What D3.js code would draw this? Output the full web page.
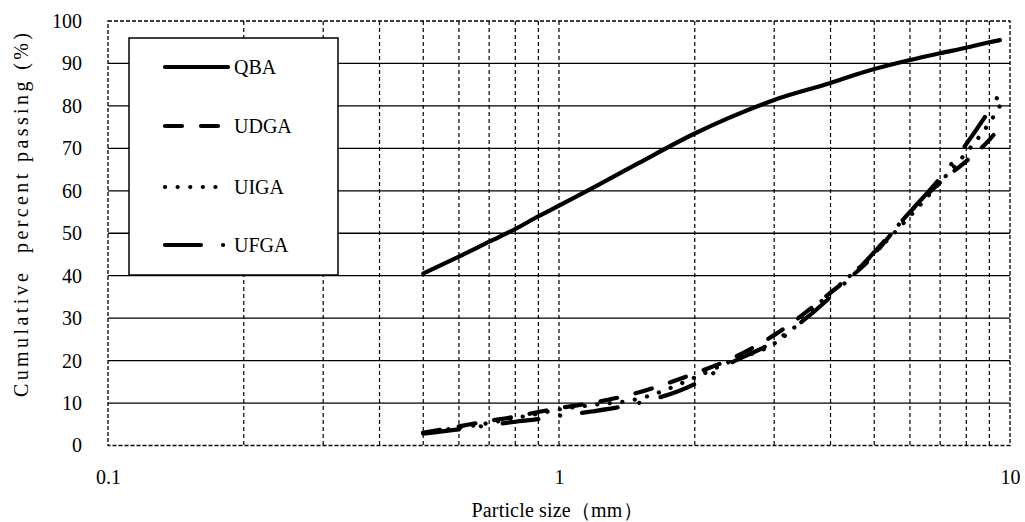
<!DOCTYPE html>
<html><head><meta charset="utf-8">
<script src="https://cdn.jsdelivr.net/npm/d3@7"></script>
<style>
html,body{margin:0;padding:0;background:#fff;}
svg{display:block;}
</style></head>
<body>
<svg id="chart" width="1025" height="522"></svg>
<script>
// ---- data ----
const sizes = [0.5, 0.6, 0.7, 0.8, 0.9, 1, 1.18, 1.5, 2, 2.36, 3, 4, 4.75, 6, 7, 8, 9, 9.5];
const qba  = [40.5, 44.5, 48, 51, 54, 56.5, 60.5, 66.5, 73.5, 77, 81.4, 85.4, 88, 90.8, 92.4, 93.7, 95, 95.5];
const udga = [3, 4.5, 5.8, 6.8, 7.9, 8.8, 10, 12.5, 17, 20, 26, 36, 42.5, 55, 62, 67, 72, 75];
const uiga = [3, 4.2, 5.3, 6.5, 7.5, 8.5, 9.5, 11, 16, 19.5, 24, 36, 43, 54, 62, 69, 76, 80];
const ufga = [2.8, 3.8, 4.8, 5.6, 6.2, 7, 8, 10, 14.5, 19, 24.5, 35, 43, 55, 63, 71, 79, 83];
const seriesNames = ["QBA", "UDGA", "UIGA", "UFGA"];
const xTicks = [0.1, 1, 10];
const xMinor = [0.2,0.3,0.4,0.5,0.6,0.7,0.8,0.9,2,3,4,5,6,7,8,9];
const yTicks = [0,10,20,30,40,50,60,70,80,90,100];
const xTitle = "Particle size（mm）";
const yTitle = "Cumulative  percent passing (%)";

const dashes = ["none", "17,19", "0.1,12.5", "36,22,0.1,22"];
const allSeries = [qba, udga, uiga, ufga];
const FONT = '"Liberation Serif"';

// ---- layout ----
const L = 108, R = 1010, T = 21, B = 445.5;
const svg = d3.select("#chart");
const x = d3.scaleLog().domain([0.1, 10]).range([L, R]);
const y = d3.scaleLinear().domain([0, 100]).range([B, T]);

// horizontal gridlines (solid)
svg.append("g").selectAll("line").data(yTicks.filter(v => v > 0 && v < 100)).join("line")
  .attr("x1", L).attr("x2", R).attr("y1", d => y(d)).attr("y2", d => y(d))
  .attr("stroke", "#000").attr("stroke-width", 1.3);

// vertical dashed gridlines
svg.append("g").selectAll("line").data(xMinor.concat([1])).join("line")
  .attr("x1", d => x(d)).attr("x2", d => x(d)).attr("y1", T).attr("y2", B)
  .attr("stroke", "#000").attr("stroke-width", 1.2).attr("stroke-dasharray", "4,3");

// border (dashed)
svg.append("rect").attr("x", L).attr("y", T).attr("width", R - L).attr("height", B - T)
  .attr("fill", "none").attr("stroke", "#000").attr("stroke-width", 1.3).attr("stroke-dasharray", "4,2");

// axes labels via d3 axes (tick lines hidden)
const yAxis = svg.append("g").attr("transform", `translate(${L},0)`)
  .call(d3.axisLeft(y).tickValues(yTicks).tickSize(0).tickPadding(26));
yAxis.select(".domain").remove();
yAxis.attr("font-family", FONT).attr("font-size", 20);
yAxis.selectAll("text").style("font-size", "20px").style("font-family", FONT);

const xAxis = svg.append("g").attr("transform", `translate(0,${B})`)
  .call(d3.axisBottom(x).tickValues(xTicks).tickFormat(d3.format("")).tickSize(0).tickPadding(24));
xAxis.select(".domain").remove();
xAxis.attr("font-family", FONT).attr("font-size", 20);
xAxis.selectAll("text").style("font-size", "20px").style("font-family", FONT);

// titles
svg.append("text").attr("x", 557).attr("y", 517).attr("text-anchor", "middle")
  .style("font-size", "20px").style("font-family", FONT)
  .attr("textLength", 171).attr("lengthAdjust", "spacing").text(xTitle);
svg.append("text").attr("transform", "translate(28,215) rotate(-90)").attr("text-anchor", "middle")
  .style("font-size", "20px").style("font-family", FONT).style("white-space", "pre")
  .attr("textLength", 364).attr("lengthAdjust", "spacing").text(yTitle);

// lines
const line = d3.line().x(d => x(d[0])).y(d => y(d[1])).curve(d3.curveMonotoneX);
allSeries.forEach((vals, i) => {
  svg.append("path").datum(sizes.map((s, j) => [s, vals[j]]))
    .attr("d", line).attr("fill", "none").attr("stroke", "#000")
    .attr("stroke-width", 4.2).attr("stroke-linecap", "round").attr("stroke-linejoin", "round")
    .attr("stroke-dasharray", dashes[i] === "none" ? null : dashes[i]);
});

// legend
const lg = svg.append("g");
lg.append("rect").attr("x", 129).attr("y", 38).attr("width", 209).attr("height", 237)
  .attr("fill", "#fff").attr("stroke", "#000").attr("stroke-width", 1.5);
const ly = [67, 126, 187, 245];
seriesNames.forEach((n, i) => {
  lg.append("line").attr("x1", 165).attr("x2", 228).attr("y1", ly[i]).attr("y2", ly[i])
    .attr("stroke", "#000").attr("stroke-width", 4.2).attr("stroke-linecap", "round")
    .attr("stroke-dasharray", dashes[i] === "none" ? null : dashes[i]);
  lg.append("text").attr("x", 234).attr("y", ly[i] + 7)
    .style("font-size", "20px").style("font-family", FONT).text(n);
});
</script>
</body></html>
